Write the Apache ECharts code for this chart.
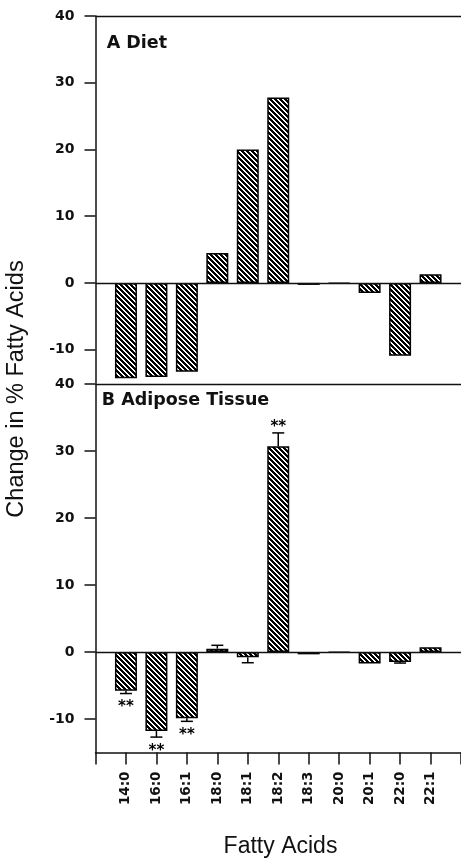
<!DOCTYPE html>
<html>
<head>
<meta charset="utf-8">
<script src="https://cdn.jsdelivr.net/npm/echarts@6/dist/echarts.min.js"></script>
<style>
html,body{margin:0;padding:0;background:#fff;}
#chart{width:461px;height:860px;}
</style>
</head>
<body>
<div id="chart"></div>
<script>
// ---- data ----
const categories = ['14:0','16:0','16:1','18:0','18:1','18:2','18:3','20:0','20:1','22:0','22:1'];
const dietChange = [-14.3, -14.1, -13.3, 4.5, 20.0, 27.8, -0.3, -0.1, -1.5, -10.9, 1.3];
const adiposeChange = [-5.8, -11.8, -9.9, 0.5, -0.8, 30.7, -0.35, -0.1, -1.7, -1.5, 0.7];
const adiposeError = [0.4, 0.9, 0.45, 0.5, 0.8, 2.0, 0, 0, 0, 0.15, 0];
const adiposeSig = ['**','**','**','','','**','','','','',''];
const yTicks = [-10, 0, 10, 20, 30, 40];
const yMin = -15, yMax = 40;

// ---- helpers ----
const axisCats = [''].concat(categories, ['']);
const pad = arr => ['-'].concat(arr, ['-']);

function hatch() {
  const c = document.createElement('canvas');
  const n = 5;
  c.width = n; c.height = n;
  const ctx = c.getContext('2d');
  ctx.fillStyle = '#fff';
  ctx.fillRect(0, 0, n, n);
  ctx.fillStyle = '#000';
  for (let y = 0; y < n; y++) {
    for (let x = 0; x < n; x++) {
      if ((((x - y) % n) + n) % n < 3) ctx.fillRect(x, y, 1, 1);
    }
  }
  return c;
}
const pattern = { image: hatch(), repeat: 'repeat' };

const tickFont = 'DejaVu Sans';
const lineCol = '#111';

function yAxisDef(gridIndex) {
  return {
    type: 'value', gridIndex, min: yMin, max: yMax,
    axisLine: { show: true, lineStyle: { color: lineCol, width: 1.5 } },
    axisTick: { show: true, length: 11, customValues: yTicks, lineStyle: { color: lineCol, width: 1.5 } },
    axisLabel: { show: true, customValues: yTicks, margin: 21, color: '#111',
      fontFamily: tickFont, fontWeight: 'bold', fontSize: 14 },
    splitLine: { show: false }
  };
}

const refLines = {
  silent: true, symbol: 'none', animation: false,
  label: { show: false },
  lineStyle: { color: lineCol, width: 1.3, type: 'solid' },
  data: [{ yAxis: 0 }, { yAxis: 40 }]
};

const barStyle = { color: pattern, borderColor: '#000', borderWidth: 1.5 };

const errData = adiposeChange.map((v, i) => [i + 1, v, adiposeError[i]]);
const sigData = adiposeChange.map((v, i) => [i + 1, v, adiposeError[i], adiposeSig[i]]);

const chart = echarts.init(document.getElementById('chart'), null, { renderer: 'canvas' });
chart.setOption({
  animation: false,
  backgroundColor: '#fff',
  grid: [
    { left: 95.5, top: 16, width: 370.8, height: 367 },
    { left: 95.5, top: 384, width: 370.8, height: 368.5 }
  ],
  xAxis: [
    { type: 'category', gridIndex: 0, data: axisCats, boundaryGap: false,
      axisLine: { show: false }, axisTick: { show: false }, axisLabel: { show: false } },
    { type: 'category', gridIndex: 1, data: axisCats, boundaryGap: false,
      axisLine: { show: true, onZero: false, lineStyle: { color: lineCol, width: 1.5 } },
      axisTick: { show: true, length: 12, interval: 0, lineStyle: { color: lineCol, width: 1.5 } },
      axisLabel: { show: true, interval: 0, rotate: 90, margin: 19, color: '#111',
        fontFamily: tickFont, fontWeight: 'bold', fontSize: 13.5 } }
  ],
  yAxis: [yAxisDef(0), yAxisDef(1)],
  series: [
    { type: 'bar', xAxisIndex: 0, yAxisIndex: 0, data: pad(dietChange), barWidth: 22,
      itemStyle: barStyle, markLine: refLines },
    { type: 'bar', xAxisIndex: 1, yAxisIndex: 1, data: pad(adiposeChange), barWidth: 22,
      itemStyle: barStyle, markLine: refLines },
    { type: 'custom', xAxisIndex: 1, yAxisIndex: 1, data: errData, z: 5,
      renderItem: function (params, api) {
        const x = api.value(0), v = api.value(1), e = api.value(2);
        if (!e) return null;
        const s = v >= 0 ? 1 : -1;
        const p0 = api.coord([x, v]);
        const p1 = api.coord([x, v + s * e]);
        const st = { stroke: '#000', lineWidth: 1.5 };
        return { type: 'group', children: [
          { type: 'line', shape: { x1: p0[0], y1: p0[1], x2: p1[0], y2: p1[1] }, style: st },
          { type: 'line', shape: { x1: p1[0] - 6, y1: p1[1], x2: p1[0] + 6, y2: p1[1] }, style: st }
        ]};
      } },
    { type: 'custom', xAxisIndex: 1, yAxisIndex: 1, data: sigData, z: 6,
      renderItem: function (params, api) {
        const i = params.dataIndex;
        const txt = adiposeSig[i];
        if (!txt) return null;
        const x = api.value(0), v = api.value(1), e = api.value(2);
        const s = v >= 0 ? 1 : -1;
        const p = api.coord([x, v + s * e]);
        const y = p[1] - s * 10 + 4;
        return { type: 'text', x: p[0], y: y,
          style: { text: txt, fill: '#000', font: 'bold 15px "DejaVu Sans"',
            textAlign: 'center', textVerticalAlign: 'middle', align: 'center', verticalAlign: 'middle' } };
      } }
  ],
  graphic: [
    { type: 'text', x: 106.7, y: 43,
      style: { text: 'A Diet', fill: '#111', font: 'bold 17.5px "DejaVu Sans"',
        textAlign: 'left', textVerticalAlign: 'middle', align: 'left', verticalAlign: 'middle' } },
    { type: 'text', x: 101.7, y: 400,
      style: { text: 'B Adipose Tissue', fill: '#111', font: 'bold 17.5px "DejaVu Sans"',
        textAlign: 'left', textVerticalAlign: 'middle', align: 'left', verticalAlign: 'middle' } },
    { type: 'text', x: 16.5, y: 389, rotation: Math.PI / 2,
      style: { text: 'Change in % Fatty Acids', fill: '#111', font: '23.5px "Liberation Sans"',
        textAlign: 'center', textVerticalAlign: 'middle', align: 'center', verticalAlign: 'middle' } },
    { type: 'text', x: 280.5, y: 846.7,
      style: { text: 'Fatty Acids', fill: '#111', font: '23px "Liberation Sans"',
        textAlign: 'center', textVerticalAlign: 'middle', align: 'center', verticalAlign: 'middle' } }
  ]
});
</script>
</body>
</html>
